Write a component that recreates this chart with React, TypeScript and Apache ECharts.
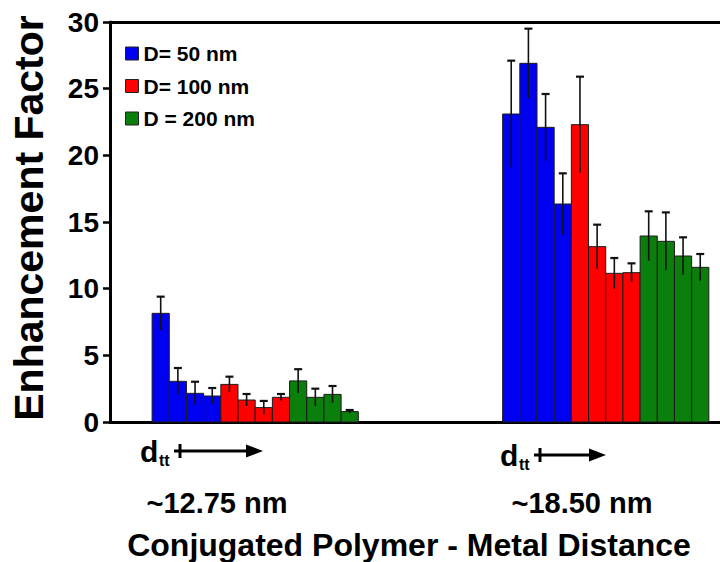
import React, { useEffect, useRef } from "react";
import * as echarts from "echarts";

// ---- data ----
const seriesNames = ["D= 50 nm", "D= 100 nm", "D = 200 nm"];
const seriesColors = ["#0000F0", "#FF0000", "#0B7F0B"];
const distanceLabels = ["~12.75 nm", "~18.50 nm"];
const xAxisTitle = "Conjugated Polymer - Metal Distance";
const yAxisTitle = "Enhancement Factor";
const yTickValues = [0, 5, 10, 15, 20, 25, 30];

// 4 bars per diameter per distance group: first 4 = ~12.75 nm, last 4 = ~18.50 nm
const d50Values = [8.15, 3.05, 2.15, 1.95, 23.1, 26.9, 22.1, 16.35];
const d50Errors = [1.25, 1.0, 0.87, 0.6, 4.0, 2.6, 2.5, 2.3];
const d100Values = [2.82, 1.65, 1.08, 1.85, 22.3, 13.15, 11.15, 11.2];
const d100Errors = [0.58, 0.45, 0.5, 0.25, 3.6, 1.65, 1.15, 0.7];
const d200Values = [3.08, 1.85, 2.07, 0.78, 13.95, 13.55, 12.45, 11.6];
const d200Errors = [0.88, 0.65, 0.63, 0.12, 1.85, 2.17, 1.4, 1.0];

const allValues = [d50Values, d100Values, d200Values];
const allErrors = [d50Errors, d100Errors, d200Errors];

// ---- layout (slot units on the x value axis) ----
const X_MAX = 35.5;
const GROUP_START = [2.45, 22.85];
const BARS_PER_GROUP = 4;
const FONT = "'Liberation Sans', Arial, Helvetica, sans-serif";

function buildSeriesData(s: number) {
  return allValues[s].map((v, i) => {
    const g = Math.floor(i / BARS_PER_GROUP);
    const k = i % BARS_PER_GROUP;
    const x = GROUP_START[g] + s * BARS_PER_GROUP + k + 0.5;
    return [x, v, allErrors[s][i]];
  });
}

function makeRenderItem(color: string) {
  return (params: any, api: any) => {
    const x = api.value(0);
    const y = api.value(1);
    const e = api.value(2);
    const tl = api.coord([x - 0.5, y]);
    const br = api.coord([x + 0.5, 0]);
    const top = api.coord([x, y + e]);
    const bot = api.coord([x, Math.max(0, y - e)]);
    return {
      type: "group",
      children: [
        {
          type: "rect",
          shape: { x: tl[0], y: tl[1], width: br[0] - tl[0], height: br[1] - tl[1] },
          style: { fill: color, stroke: "#1c1c1c", lineWidth: 1 },
        },
        {
          type: "line",
          shape: { x1: top[0], y1: top[1], x2: bot[0], y2: bot[1] },
          style: { stroke: "#111", lineWidth: 1.6 },
        },
        {
          type: "line",
          shape: { x1: top[0] - 4, y1: top[1], x2: top[0] + 4, y2: top[1] },
          style: { stroke: "#111", lineWidth: 2.2 },
        },
      ],
    };
  };
}

function dttGroup(x: number, y: number, lineEnd: number) {
  return {
    type: "group",
    children: [
      {
        type: "text",
        x: x,
        y: y,
        style: { text: "d", font: `bold 30px ${FONT}`, fill: "#000", textAlign: "left", textVerticalAlign: "middle" },
      },
      {
        type: "text",
        x: x + 19,
        y: y + 9,
        style: { text: "tt", font: `bold 16px ${FONT}`, fill: "#000", textAlign: "left", textVerticalAlign: "middle" },
      },
      {
        type: "line",
        shape: { x1: x + 34, y1: y, x2: lineEnd - 12, y2: y },
        style: { stroke: "#000", lineWidth: 3 },
      },
      {
        type: "line",
        shape: { x1: x + 40, y1: y - 7, x2: x + 40, y2: y + 7 },
        style: { stroke: "#000", lineWidth: 3 },
      },
      {
        type: "polygon",
        shape: { points: [[lineEnd - 17, y - 6.5], [lineEnd, y], [lineEnd - 17, y + 6.5]] },
        style: { fill: "#000" },
      },
    ],
  };
}

export default function App() {
  const ref = useRef<HTMLDivElement>(null);
  useEffect(() => {
    if (!ref.current) return;
    const chart = echarts.init(ref.current, undefined, { renderer: "svg" });
    const option: any = {
      animation: false,
      backgroundColor: "#ffffff",
      grid: { left: 108, right: 0, top: 22, bottom: 140, containLabel: false },
      legend: {
        orient: "vertical",
        left: 125,
        top: 43,
        padding: 0,
        itemWidth: 13,
        itemHeight: 13,
        itemGap: 11.5,
        icon: "rect",
        selectedMode: false,
        itemStyle: { borderColor: "#222", borderWidth: 1 },
        textStyle: { fontSize: 21, fontWeight: "bold", fontFamily: FONT, color: "#000", lineHeight: 20 },
        data: seriesNames,
      },
      xAxis: [
        {
          type: "value",
          min: 0,
          max: X_MAX,
          position: "bottom",
          axisLine: { show: true, onZero: false, lineStyle: { color: "#000", width: 3 } },
          axisTick: { show: false },
          axisLabel: { show: false },
          splitLine: { show: false },
        },
        {
          type: "value",
          min: 0,
          max: X_MAX,
          position: "top",
          axisLine: { show: true, onZero: false, lineStyle: { color: "#000", width: 3 } },
          axisTick: { show: false },
          axisLabel: { show: false },
          splitLine: { show: false },
        },
      ],
      yAxis: {
        type: "value",
        min: yTickValues[0],
        max: yTickValues[yTickValues.length - 1],
        interval: 5,
        name: yAxisTitle,
        nameLocation: "middle",
        nameGap: 61,
        nameTextStyle: { fontSize: 41, fontWeight: "bold", fontFamily: FONT, color: "#000", padding: [0, 0, 0, 8] },
        axisLine: { show: true, lineStyle: { color: "#000", width: 3 } },
        axisTick: { show: true, inside: false, length: 7, lineStyle: { color: "#000", width: 2.5 } },
        axisLabel: { margin: 11, fontSize: 28, fontWeight: "bold", fontFamily: FONT, color: "#000" },
        splitLine: { show: false },
      },
      series: seriesNames.map((name, s) => ({
        name,
        type: "custom",
        xAxisIndex: 0,
        itemStyle: { color: seriesColors[s] },
        renderItem: makeRenderItem(seriesColors[s]),
        encode: { x: 0, y: 1 },
        data: buildSeriesData(s),
        z: 2,
      })),
      graphic: [
        dttGroup(140, 451, 263),
        dttGroup(500, 455, 606),
        {
          type: "text",
          x: 217,
          y: 503,
          style: { text: distanceLabels[0], font: `bold 29px ${FONT}`, fill: "#000", textAlign: "center", textVerticalAlign: "middle" },
        },
        {
          type: "text",
          x: 582,
          y: 503,
          style: { text: distanceLabels[1], font: `bold 29px ${FONT}`, fill: "#000", textAlign: "center", textVerticalAlign: "middle" },
        },
        {
          type: "text",
          x: 409,
          y: 545,
          style: { text: xAxisTitle, font: `bold 32px ${FONT}`, fill: "#000", textAlign: "center", textVerticalAlign: "middle" },
        },
      ],
    };
    chart.setOption(option);
    return () => chart.dispose();
  }, []);
  return (
    <div
      ref={ref}
      style={{ position: "fixed", left: 0, top: 0, width: 720, height: 562, background: "#fff" }}
    />
  );
}
